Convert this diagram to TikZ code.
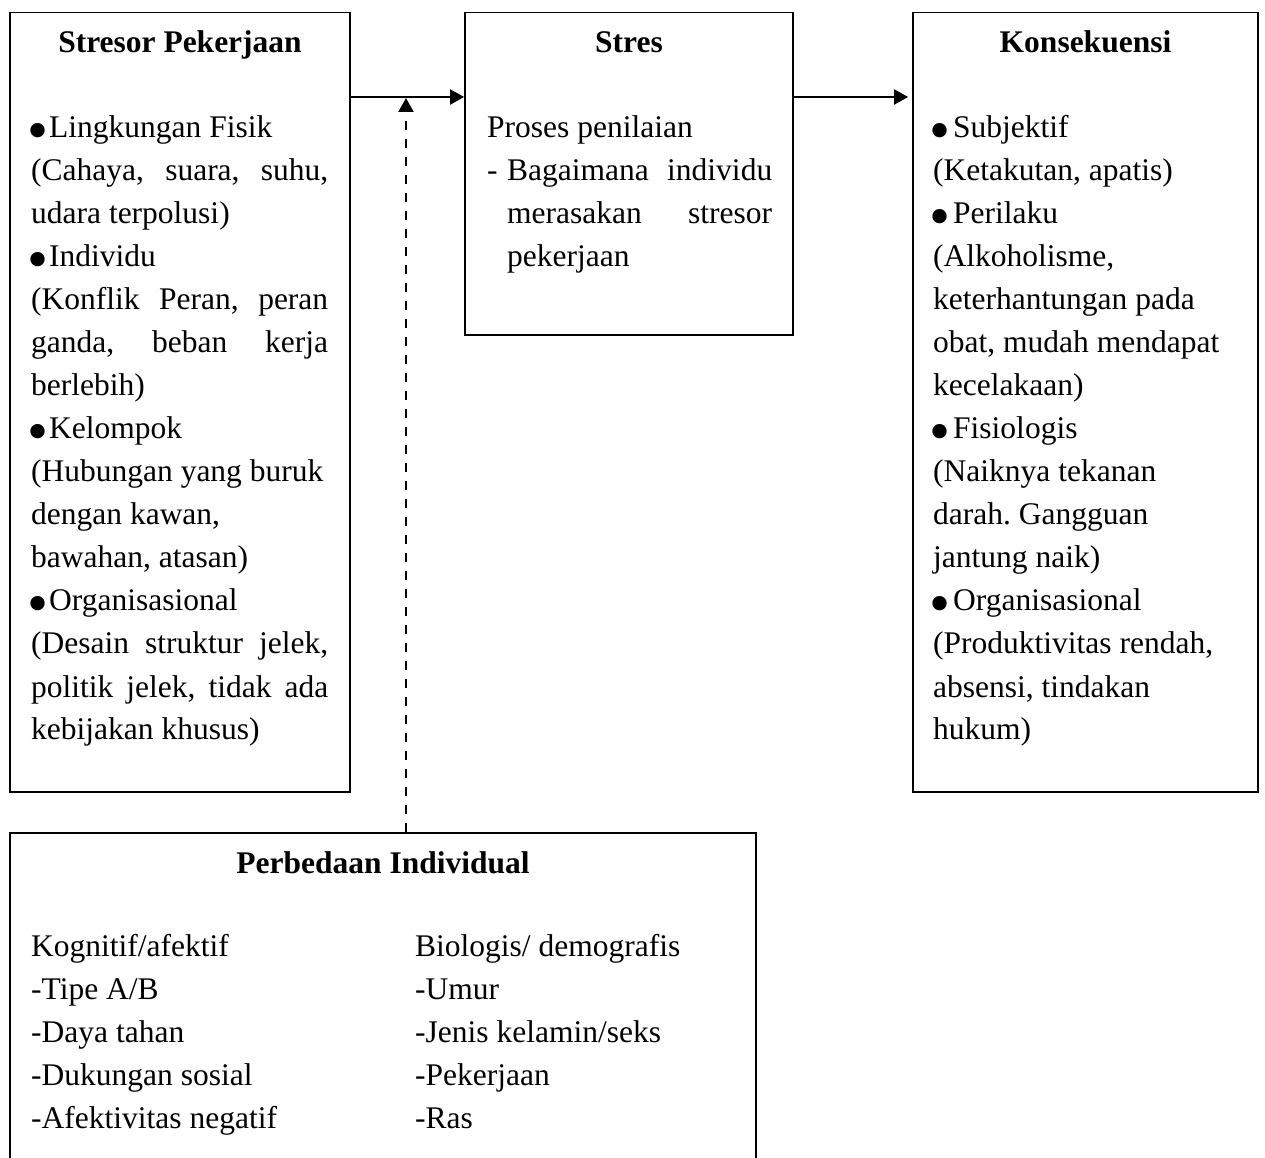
\documentclass[tikz,border=0pt]{standalone}
\usepackage{fontspec}
\setmainfont{Liberation Serif}
\usetikzlibrary{arrows.meta}
\newcommand{\bul}[1][18pt]{\makebox[#1][l]{\hspace*{-4pt}\raisebox{-12.5pt}[0pt][0pt]{\fontsize{60}{43}\selectfont\textbullet}}}
\newcommand{\jl}[1]{\makebox[\linewidth][s]{#1}}
\frenchspacing
\begin{document}
\begin{tikzpicture}[x=1pt,y=-1pt,
  box/.style={draw, line width=1.7pt, rectangle, inner sep=0pt},
  ttl/.style={anchor=base, inner sep=0pt, font=\fontsize{31.5}{43}\selectfont\bfseries},
  txt/.style={anchor=base west, inner sep=0pt, font=\fontsize{31.5}{43}\selectfont\frenchspacing},
  arr/.style={line width=1.9pt, -{Triangle[length=14pt,width=15pt]}},
  dasharr/.style={arr, line width=2.2pt, dash pattern=on 9pt off 9pt}]
\clip (0,0) rectangle (1265,1158);
\fill[white] (0,0) rectangle (1265,1158);
% boxes
\node[box, minimum width=340pt, minimum height=779.5pt] (stresor) at (180,402.25) {};
\node[box, minimum width=328pt, minimum height=322.5pt] (stres) at (629,173.75) {};
\node[box, minimum width=345pt, minimum height=779.5pt] (konsek) at (1085.5,402.25) {};
\node[box, minimum width=746pt, minimum height=342pt] (indiv) at (383,1004) {};
% titles
\node[ttl] (t1) at (180,53) {Stresor Pekerjaan};
\node[ttl] (t2) at (629,53) {Stres};
\node[ttl] (t3) at (1085.5,53) {Konsekuensi};
\node[ttl] (t4) at (383,873) {Perbedaan Individual};
% left box text
\node[txt] (stxt) at (31,138) {\parbox[t]{297pt}{%
\bul Lingkungan Fisik\\
\jl{(Cahaya, suara, suhu,}\\
udara terpolusi)\\
\bul Individu\\
\jl{(Konflik Peran, peran}\\
\jl{ganda, beban kerja}\\
berlebih)\\
\bul Kelompok\\
(Hubungan yang buruk\\
dengan kawan,\\
bawahan, atasan)\\
\bul Organisasional\\
\jl{(Desain struktur jelek,}\\
\jl{politik jelek, tidak ada}\\
kebijakan khusus)}};
% middle box text
\node[txt] (mtxt) at (487,138) {\parbox[t]{285pt}{%
Proses penilaian\\
\makebox[20pt][l]{-}\makebox[265pt][s]{Bagaimana individu}\\
\hspace*{20pt}\makebox[265pt][s]{merasakan stresor}\\
\hspace*{20pt}pekerjaan}};
% right box text
\node[txt] (ktxt) at (933,138) {\parbox[t]{310pt}{%
\bul[20pt]Subjektif\\
(Ketakutan, apatis)\\
\bul[20pt]Perilaku\\
(Alkoholisme,\\
keterhantungan pada\\
obat, mudah mendapat\\
kecelakaan)\\
\bul[20pt]Fisiologis\\
(Naiknya tekanan\\
darah. Gangguan\\
jantung naik)\\
\bul[20pt]Organisasional\\
(Produktivitas rendah,\\
absensi, tindakan\\
hukum)}};
% bottom box text
\node[txt] (itxt1) at (31,956) {\parbox[t]{360pt}{%
Kognitif/afektif\\
-Tipe A/B\\
-Daya tahan\\
-Dukungan sosial\\
-Afektivitas negatif}};
\node[txt] (itxt2) at (415,956) {\parbox[t]{330pt}{%
Biologis/ demografis\\
-Umur\\
-Jenis kelamin/seks\\
-Pekerjaan\\
-Ras}};
% connectors
\coordinate (j) at (406,97);
\draw[arr] (stresor.east |- j) -- (stres.west |- j);
\draw[arr, shorten >=4pt] (stres.east |- j) -- (konsek.west |- j);
\draw[dasharr, shorten >=1pt] (indiv.north -| j) -- (j);
\end{tikzpicture}
\end{document}
